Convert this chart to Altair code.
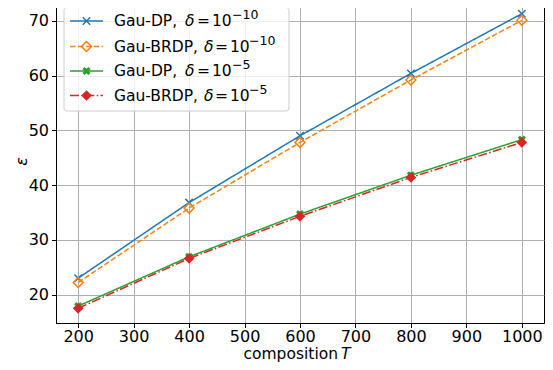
import altair as alt
import pandas as pd

# ---------------- data ----------------
T_values = [200, 400, 600, 800, 1000]
gau_dp_1e10 = [23.0, 36.8, 49.0, 60.4, 71.3]
gau_brdp_1e10 = [22.2, 35.8, 47.8, 59.2, 70.1]
gau_dp_1e5 = [17.9, 26.9, 34.7, 41.8, 48.3]
gau_brdp_1e5 = [17.5, 26.6, 34.3, 41.4, 47.8]

series_names = ["Gau-DP 1e-10", "Gau-BRDP 1e-10", "Gau-DP 1e-5", "Gau-BRDP 1e-5"]
series_values = [gau_dp_1e10, gau_brdp_1e10, gau_dp_1e5, gau_brdp_1e5]
legend_prefix = ["Gau-DP,", "Gau-BRDP,", "Gau-DP,", "Gau-BRDP,"]
legend_exp = ["\u221210", "\u221210", "\u22125", "\u22125"]

x_ticks = [200, 300, 400, 500, 600, 700, 800, 900, 1000]
y_ticks = [20, 30, 40, 50, 60, 70]

rows = []
for name, vals in zip(series_names, series_values):
    for t, v in zip(T_values, vals):
        rows.append({"series": name, "T": t, "eps": v})
df = pd.DataFrame(rows)

# ---------------- styles ----------------
FONT = "DejaVu Sans"
FS = 16
LFS = 15.5
colors = ["#1f77b4", "#ff7f0e", "#2ca02c", "#d62728"]
dashes = [[1, 0], [5.5, 2.4], [1, 0], [9, 2.4, 1.5, 2.4]]
x_path = "M-1,-1L1,1M-1,1L1,-1"
plus_path = ("M-0.36,-1L0.36,-1L0.36,-0.36L1,-0.36L1,0.36L0.36,0.36L0.36,1"
             "L-0.36,1L-0.36,0.36L-1,0.36L-1,-0.36L-0.36,-0.36Z")
markers = [
    dict(shape=x_path, filled=False, size=56, strokeWidth=1.5, angle=0),
    dict(shape="diamond", filled=False, size=100, strokeWidth=1.5, angle=0),
    dict(shape=plus_path, filled=True, size=72, strokeWidth=0, angle=45),
    dict(shape="diamond", filled=True, size=115, strokeWidth=0, angle=0),
]

W, H = 488, 324
xscale = alt.Scale(domain=[160, 1040], nice=False, zero=False)
yscale = alt.Scale(domain=[14.81, 73.99], nice=False, zero=False)


def marker_mark(chart, i):
    m = markers[i]
    if m["filled"]:
        return chart.mark_point(shape=m["shape"], filled=True, fill=colors[i],
                                size=m["size"], strokeWidth=0,
                                angle=m["angle"], opacity=1)
    return chart.mark_point(shape=m["shape"], filled=False, stroke=colors[i],
                            size=m["size"], strokeWidth=m["strokeWidth"],
                            opacity=1)


base = alt.Chart(df)
layers = []
for i, name in enumerate(series_names):
    sub = base.transform_filter(alt.datum.series == name)
    enc = dict(
        x=alt.X("T:Q", scale=xscale,
                axis=alt.Axis(values=x_ticks, title=None, grid=True,
                              format="d")),
        y=alt.Y("eps:Q", scale=yscale,
                axis=alt.Axis(values=y_ticks, title="\u03b5", grid=True,
                              format="d")),
    )
    layers.append(sub.mark_line(color=colors[i], strokeWidth=1.5,
                                strokeDash=dashes[i]).encode(**enc))
    layers.append(marker_mark(sub, i).encode(**enc))

# ---------------- legend (manual, plot-pixel coordinates) ----------------
one = pd.DataFrame({"k": [0]})
leg = alt.Chart(one)
layers.append(leg.mark_rect(fill="white", fillOpacity=0.8, stroke="#cccccc",
                            strokeWidth=1, cornerRadius=3).encode(
    x=alt.value(8), x2=alt.value(233), y=alt.value(8.5), y2=alt.value(112)))

row_y = [22, 47.5, 72, 96.5]
delta_x = [129, 148, 129, 148]
eq_x = [141, 159, 141, 159]
ten_x = [156, 174, 156, 174]
sup_x = [176, 193, 176, 193]
for i in range(4):
    ry = row_y[i]
    layers.append(leg.mark_rule(color=colors[i], strokeWidth=1.5,
                                strokeDash=dashes[i]).encode(
        x=alt.value(14), x2=alt.value(47), y=alt.value(ry)))
    layers.append(marker_mark(leg, i).encode(x=alt.value(30.5), y=alt.value(ry)))
    txt = dict(font=FONT, fontSize=LFS, align="left", baseline="middle",
               color="black")
    layers.append(leg.mark_text(text=legend_prefix[i], **txt).encode(
        x=alt.value(58), y=alt.value(ry)))
    layers.append(leg.mark_text(text="\u03b4", fontStyle="italic", **txt).encode(
        x=alt.value(delta_x[i]), y=alt.value(ry)))
    layers.append(leg.mark_text(text="=", **txt).encode(
        x=alt.value(eq_x[i]), y=alt.value(ry)))
    layers.append(leg.mark_text(text="10", **txt).encode(
        x=alt.value(ten_x[i]), y=alt.value(ry)))
    layers.append(leg.mark_text(text=legend_exp[i], font=FONT, fontSize=12.5,
                                align="left", baseline="middle",
                                color="black").encode(
        x=alt.value(sup_x[i]), y=alt.value(ry - 6)))

# x axis title: "composition T" with italic T
layers.append(leg.mark_text(text="composition", font=FONT, fontSize=15.5,
                            align="right", baseline="middle",
                            color="black").encode(
    x=alt.value(282), y=alt.value(355)))
layers.append(leg.mark_text(text="T", font=FONT, fontSize=15.5,
                            fontStyle="italic", align="left",
                            baseline="middle", color="black").encode(
    x=alt.value(285), y=alt.value(355)))

chart = alt.layer(*layers).properties(
    width=W, height=H,
    autosize=alt.AutoSizeParams(type="none"),
    padding={"left": 48, "top": -9, "right": 1, "bottom": 39},
).configure_view(
    stroke="black", strokeWidth=1
).configure_axis(
    labelFont=FONT, labelFontSize=FS, labelColor="black",
    titleFont=FONT, titleFontSize=FS, titleColor="black",
    titleFontWeight="normal",
    domainColor="black", domainWidth=1,
    tickColor="black", tickSize=4.5, tickWidth=1,
    gridColor="#b0b0b0", gridWidth=1, gridOpacity=1,
    labelPadding=3,
).configure_axisX(
    labelPadding=0.5,
).configure_axisY(
    titleFontStyle="italic", titlePadding=-1,
)

chart.save("out.html", embed_options={"renderer": "svg", "actions": False})
